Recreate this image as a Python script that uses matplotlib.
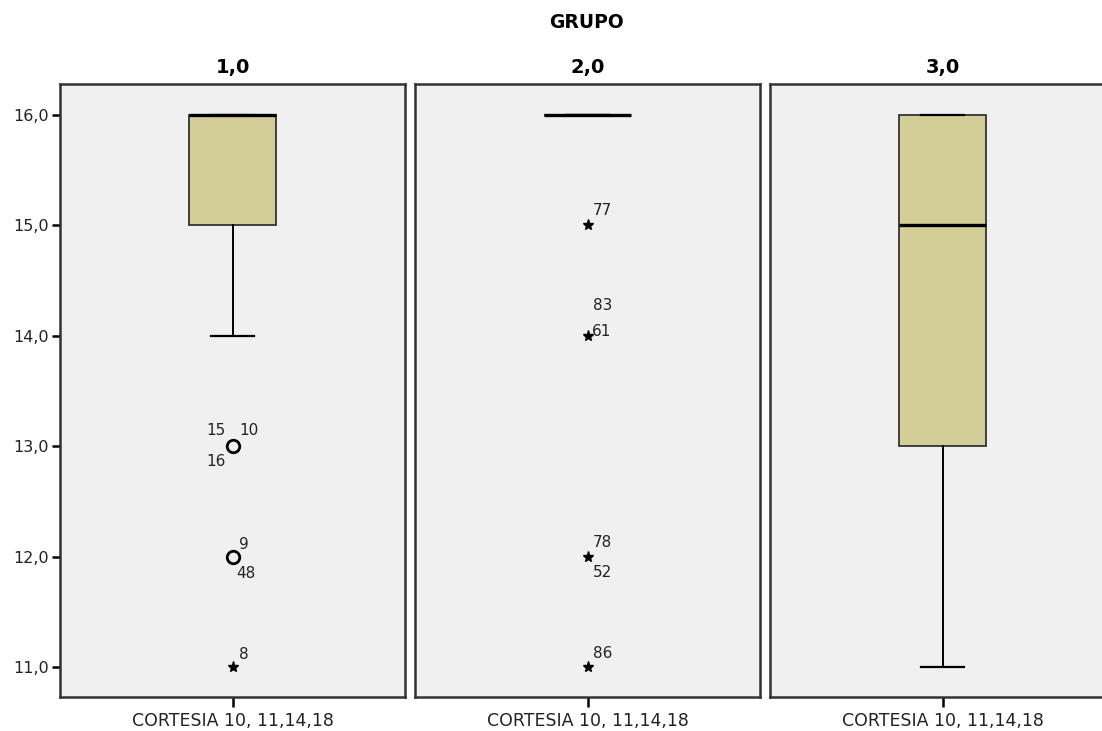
import matplotlib
matplotlib.use("Agg")
import matplotlib.pyplot as plt
from matplotlib.ticker import FuncFormatter

plt.rcParams['font.family'] = ['DejaVu Sans']

groups = ["1,0", "2,0", "3,0"]
xlabel = "CORTESIA 10, 11,14,18"
yticks = [11, 12, 13, 14, 15, 16]

q1 = [15, 16, 13]
med = [16, 16, 15]
q3 = [16, 16, 16]
whislo = [14, 16, 11]
whishi = [16, 16, 16]

# outliers per group
out_values = [[13, 12, 11], [15, 14, 12, 11], []]
out_kinds = [["o", "o", "*"], ["*", "*", "*", "*"], []]
out_labels = [[["15", "10", "16"], ["9", "48"], ["8"]],
              [["77"], ["83", "61"], ["78", "52"], ["86"]],
              []]
# label offsets (points) per label
label_offsets = {
    "15": (-5, 11, "right"), "10": (5, 11, "left"), "16": (-5, -11, "right"),
    "9": (5, 9, "left"), "48": (3, -12, "left"),
    "8": (5, 9, "left"), "77": (4, 11, "left"), "83": (4, 22, "left"),
    "61": (3, 3, "left"), "78": (4, 10, "left"), "52": (4, -11, "left"),
    "86": (4, 10, "left"),
}

fig = plt.figure(figsize=(11.02, 7.31), dpi=100)
bg = "#F0F0F0"
box_color = "#D3CE97"
lefts = [60, 415, 770]
width_px = 345
for i in range(3):
    ax = fig.add_axes([lefts[i] / 1102, 1 - 697 / 731, width_px / 1102, (697 - 84) / 731])
    ax.set_facecolor(bg)
    stats = [dict(med=med[i], q1=q1[i], q3=q3[i], whislo=whislo[i], whishi=whishi[i], fliers=[])]
    ax.bxp(stats, positions=[0], widths=0.51, patch_artist=True, showfliers=False,
           boxprops=dict(facecolor=box_color, edgecolor="#333333", linewidth=1.3),
           medianprops=dict(color="black", linewidth=2.4),
           whiskerprops=dict(color="black", linewidth=1.4),
           capprops=dict(color="black", linewidth=1.6), capwidths=0.255)
    for v, k, labs in zip(out_values[i], out_kinds[i], out_labels[i]):
        if k == "o":
            ax.plot([0], [v], marker="o", markersize=9, markerfacecolor="none",
                    markeredgecolor="black", markeredgewidth=2, linestyle="none")
        else:
            ax.plot([0], [v], marker="*", markersize=8, color="black", linestyle="none")
        for lab in labs:
            dx, dy, ha = label_offsets[lab]
            ax.annotate(lab, (0, v), xytext=(dx, dy), textcoords="offset points",
                        ha=ha, va="center", fontsize=11, color="#222222")
    ax.set_xlim(-1, 1)
    ax.set_ylim(10.73, 16.28)
    ax.set_xticks([0])
    ax.set_xticklabels([xlabel], fontsize=12.5, color="#222222")
    ax.tick_params(axis="x", length=7, width=1.8, direction="out", pad=4)
    ax.set_yticks(yticks)
    if i == 0:
        ax.yaxis.set_major_formatter(FuncFormatter(lambda v, p: f"{v:.1f}".replace(".", ",")))
        ax.tick_params(axis="y", length=6, width=1.8, labelsize=11.5, labelcolor="#222222", pad=2)
    else:
        ax.tick_params(axis="y", left=False, labelleft=False)
    for s in ax.spines.values():
        s.set_color("#333333")
        s.set_linewidth(1.8)
    ax.set_title(groups[i], fontsize=14, fontweight="bold", pad=8)

fig.text(587 / 1102, 1 - 22 / 731, "GRUPO", ha="center", va="center", fontsize=13.5, fontweight="bold")
fig.savefig("out.png", dpi=100)
